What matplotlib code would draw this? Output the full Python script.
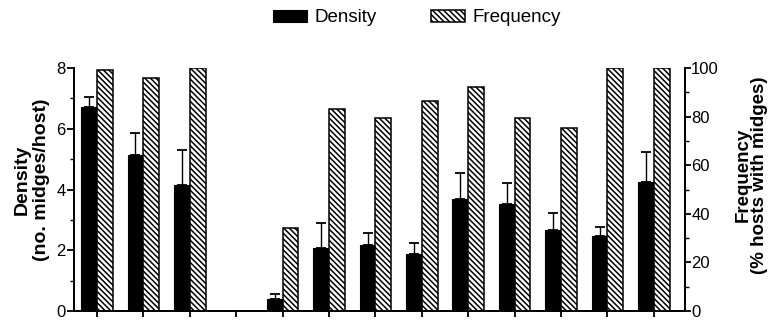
import matplotlib
matplotlib.use("Agg")
import matplotlib.pyplot as plt
import numpy as np

plt.rcParams['font.family'] = ['Liberation Sans', 'DejaVu Sans']
plt.rcParams['hatch.linewidth'] = 1.1

groups = list(range(13))
density = [6.72, 5.15, 4.14, 0.0, 0.39, 2.08, 2.17, 1.87, 3.70, 3.51, 2.66, 2.48, 4.25]
density_err = [0.33, 0.72, 1.16, 0.0, 0.17, 0.82, 0.41, 0.36, 0.85, 0.72, 0.55, 0.29, 0.99]
frequency = [99, 96, 100, 0, 34, 83, 79.5, 86.5, 92, 79.5, 75.5, 100, 100]

fig = plt.figure(figsize=(7.75, 3.23), dpi=100)
ax = fig.add_axes([74/775, 1 - 311/323, 611/775, (311 - 68)/323])
ax2 = ax.twinx()

x = np.array(groups)
w = 0.34
b1 = ax.bar(x - w/2, density, width=w, color='black', edgecolor='black',
            linewidth=0.8, label='Density', zorder=2)
ax.errorbar(x - w/2, density, yerr=[np.zeros(len(density)), density_err],
            fmt='none', ecolor='black', elinewidth=1.0, capsize=3.5, capthick=1.3, zorder=3)
b2 = ax2.bar(x + w/2, frequency, width=w, color='white', edgecolor='black',
             hatch='\\\\\\\\\\\\', linewidth=1.1, label='Frequency', zorder=2)

ax.set_xlim(-0.495, 12.67)
ax.set_ylim(0, 8)
ax2.set_ylim(0, 100)
ax.set_yticks([0, 2, 4, 6, 8])
ax.set_yticks([1, 3, 5, 7], minor=True)
ax2.set_yticks([0, 20, 40, 60, 80, 100])
ax2.set_yticks([10, 30, 50, 70, 90], minor=True)
ax.set_xticks(x)
ax.set_xticklabels([])

for a in (ax, ax2):
    a.spines['top'].set_visible(False)
    for s in a.spines.values():
        s.set_linewidth(1.3)
ax.tick_params(axis='y', which='major', length=5, width=1.3, labelsize=12, direction='out', pad=1)
ax.tick_params(axis='y', which='minor', length=3, width=1.0)
ax.tick_params(axis='x', length=4, width=1.3, direction='out')
ax2.tick_params(axis='y', which='major', length=4, width=1.3, labelsize=12, direction='out', pad=0.5)
ax2.tick_params(axis='y', which='minor', length=3, width=1.0)

ax.set_ylabel('Density\n(no. midges/host)', fontsize=14, fontweight='bold', linespacing=1.15)
ax.yaxis.set_label_coords(-0.04, 0.54)
ax2.set_ylabel('Frequency\n(% hosts with midges)', fontsize=13.5, fontweight='bold',
               rotation=90, linespacing=0.95)
ax2.yaxis.set_label_coords((735 - 74) / 611, 0.56)

fig.legend(handles=[b1, b2], labels=['Density', 'Frequency'], loc='center left',
           bbox_to_anchor=(273/775, 1 - 18/323), ncol=2, frameon=False, fontsize=13.5,
           handlelength=1.8, handleheight=0.6, columnspacing=2.9, handletextpad=0.4,
           borderpad=0, borderaxespad=0)

fig.savefig('out.png', dpi=100)
